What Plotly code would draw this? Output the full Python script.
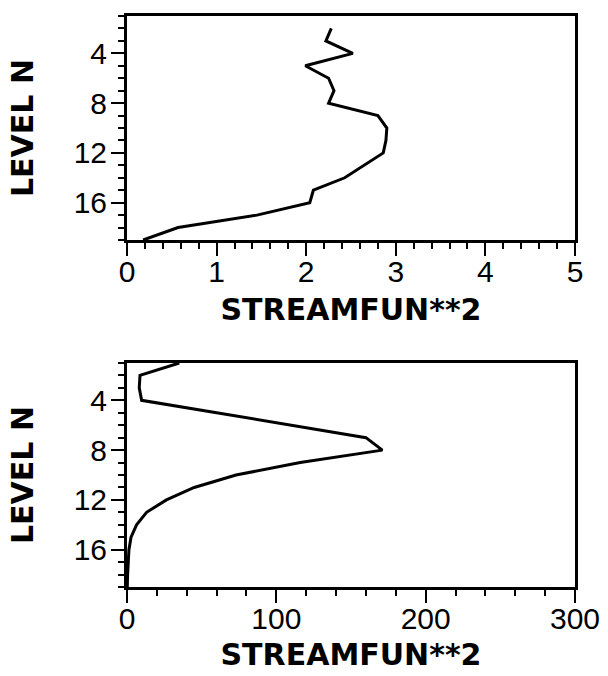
import plotly.graph_objects as go

# ---- data ----
levels_top = list(range(2, 20))
stream_top = [2.28, 2.22, 2.52, 1.99, 2.25, 2.31, 2.25, 2.80, 2.90, 2.89,
              2.86, 2.64, 2.43, 2.08, 2.04, 1.45, 0.57, 0.18]

levels_bot = list(range(1, 20))
stream_bot = [35, 8.7, 8.2, 9.8, 60, 110, 160, 171, 116, 73,
              45, 26.4, 13.1, 6.4, 2.7, 1.3, 0.7, 0.4, 0.2]

x_title = "STREAMFUN**2"
y_title = "LEVEL N"

W, H = 608, 676
FONT = "Liberation Sans, Arial, Helvetica, sans-serif"
TFONT = "DejaVu Sans, Liberation Sans, sans-serif"

fig = go.Figure()
fig.add_trace(go.Scatter(x=stream_top, y=levels_top, mode="lines",
                         line=dict(color="black", width=3), xaxis="x", yaxis="y",
                         showlegend=False))
fig.add_trace(go.Scatter(x=stream_bot, y=levels_bot, mode="lines",
                         line=dict(color="black", width=3), xaxis="x2", yaxis="y2",
                         showlegend=False))

xdom = [127 / W, 575 / W]
ydom_top = [1 - 240 / H, 1 - 16 / H]
ydom_bot = [1 - 587 / H, 1 - 363 / H]

tickfont = dict(family=FONT, size=30, color="black")
titlefont = dict(family=TFONT, size=30, color="black", weight="bold")


def xaxis(rng, dtick, minor_dtick, anchor, tstand):
    return dict(domain=xdom, range=rng, anchor=anchor, dtick=dtick, tick0=0,
                automargin=False,
                showline=True, linewidth=3, linecolor="black", mirror=True,
                ticks="outside", ticklen=13, tickwidth=2, tickcolor="black",
                ticklabelstandoff=-10,
                minor=dict(dtick=minor_dtick, tick0=0, ticks="outside", ticklen=6,
                           tickwidth=1.5, tickcolor="black", showgrid=False),
                showgrid=False, zeroline=False, tickfont=tickfont,
                title=dict(text=x_title, font=titlefont, standoff=tstand))


def yaxis(dom, anchor):
    return dict(domain=dom, range=[19, 1], anchor=anchor, dtick=4, tick0=0,
                automargin=False,
                showline=True, linewidth=3, linecolor="black", mirror=True,
                ticks="outside", ticklen=13, tickwidth=2, tickcolor="black",
                ticklabelstandoff=-2,
                minor=dict(dtick=1, tick0=0, ticks="outside", ticklen=6,
                           tickwidth=1.5, tickcolor="black", showgrid=False),
                showgrid=False, zeroline=False, tickfont=tickfont,
                title=dict(text=y_title, font=titlefont, standoff=32))


fig.update_layout(
    width=W, height=H,
    margin=dict(l=0, r=0, t=0, b=0),
    paper_bgcolor="white", plot_bgcolor="white",
    xaxis=xaxis([0, 5], 1, 0.2, "y", 12),
    yaxis=yaxis(ydom_top, "x"),
    xaxis2=xaxis([0, 300], 100, 20, "y2", 10),
    yaxis2=yaxis(ydom_bot, "x2"),
)

fig.write_html("out.html")
